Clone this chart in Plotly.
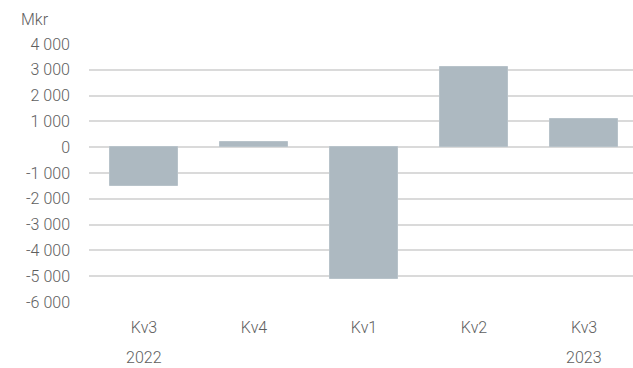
import plotly.graph_objects as go

categories = ["Kv3", "Kv4", "Kv1", "Kv2", "Kv3 "]
tick_labels = ["Kv3", "Kv4", "Kv1", "Kv2", "Kv3"]
values = [-1490, 210, -5100, 3100, 1110]
year_labels = ["2022", "2023"]
year_positions = [0, 4]
y_ticks = [4000, 3000, 2000, 1000, 0, -1000, -2000, -3000, -4000, -5000, -6000]
y_tick_text = ["4 000", "3 000", "2 000", "1 000", "0", "-1 000", "-2 000", "-3 000", "-4 000", "-5 000", "-6 000"]

x_idx = list(range(len(categories)))

font_family = "Roboto, Lato, sans-serif"
font_color = "#5e5e5e"
font_size = 16
font_weight = 300

fig = go.Figure()
fig.add_trace(go.Bar(
    x=x_idx, y=values, width=0.625,
    marker=dict(color="#adb9c1", line=dict(color="#b8c3ca", width=1)),
))

fig.update_layout(
    width=633, height=368,
    margin=dict(l=89, r=0, t=44, b=66),
    plot_bgcolor="white", paper_bgcolor="white",
    showlegend=False,
    font=dict(family=font_family, size=font_size, color=font_color, weight=font_weight),
    bargap=0,
)
fig.update_xaxes(
    range=[-0.5, 4.445],
    tickvals=x_idx, ticktext=tick_labels,
    showgrid=False, zeroline=False, showline=False,
    ticks="", ticklabelstandoff=14,
)
fig.update_yaxes(
    range=[-6000, 4000],
    tickvals=y_ticks, ticktext=y_tick_text,
    showgrid=True, gridcolor="#dadada", gridwidth=1.5,
    zeroline=True, zerolinecolor="#dadada", zerolinewidth=1.5,
    showline=False, ticks="", ticklabelstandoff=18,
)
for lab, pos in zip(year_labels, year_positions):
    fig.add_annotation(x=pos, y=0, xref="x", yref="paper", yshift=-55,
                       text=lab, showarrow=False, yanchor="middle",
                       font=dict(family=font_family, size=font_size, color=font_color, weight=font_weight))
fig.add_annotation(x=-70 / 544, y=1 + (44 - 19) / 258, xref="paper", yref="paper",
                   text="Mkr", showarrow=False, xanchor="left", yanchor="middle",
                   font=dict(family=font_family, size=font_size, color=font_color, weight=font_weight))

fig.write_html("out.html")
